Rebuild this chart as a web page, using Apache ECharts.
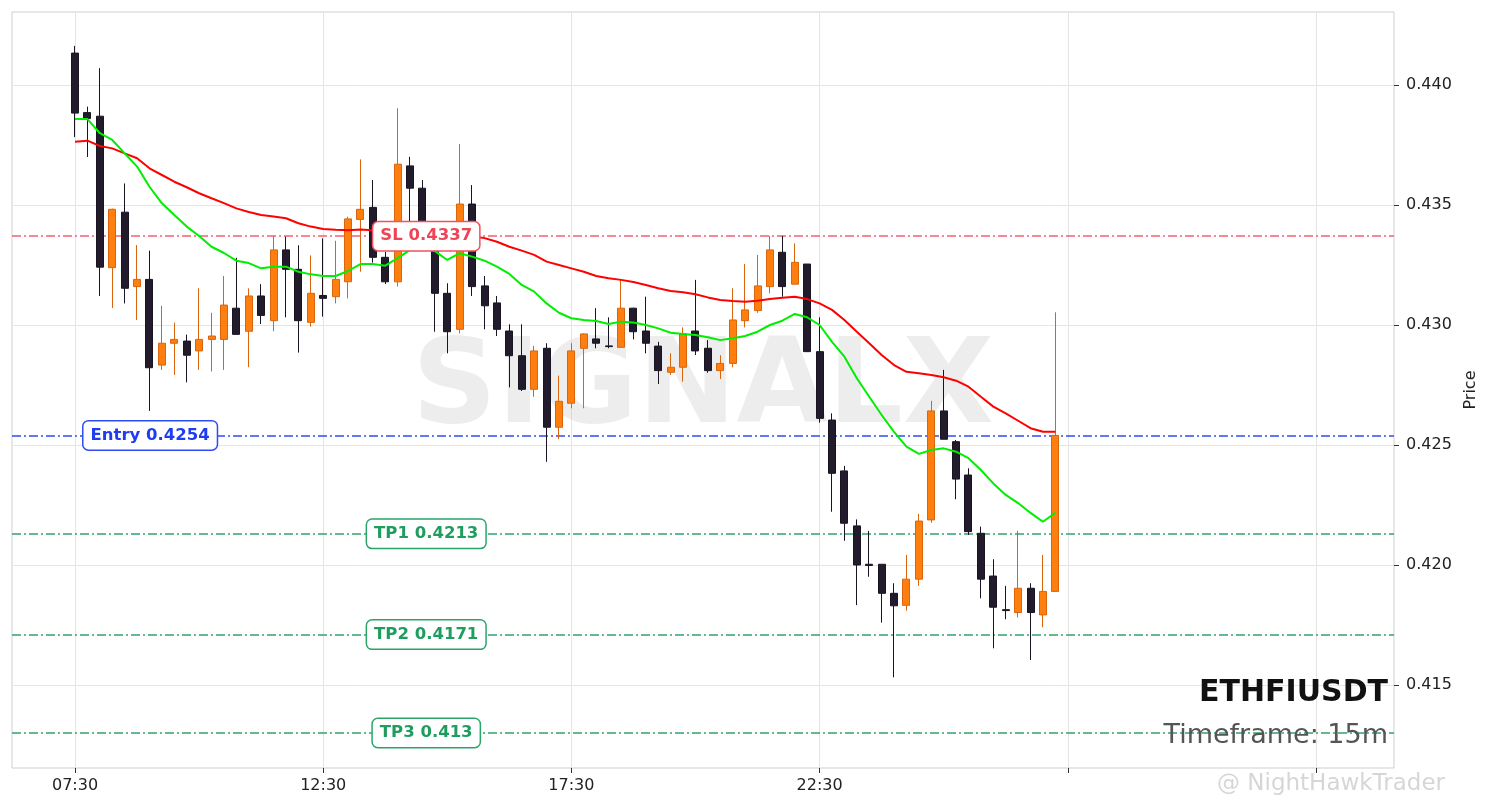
<!DOCTYPE html>
<html><head><meta charset="utf-8">
<script src="https://cdn.jsdelivr.net/npm/echarts@6/dist/echarts.min.js"></script>
<style>html,body{margin:0;padding:0;background:#fff}#c{width:1490px;height:808px}</style>
</head><body><div id="c"></div>
<script>
// ---- data (15m candles starting 07:30) ----
const OPEN  = [0.44133,0.43885,0.43870,0.43239,0.43470,0.43160,0.43190,0.42833,0.42924,0.42933,
               0.42892,0.42940,0.42940,0.43070,0.42974,0.43121,0.43018,0.43313,0.43232,0.43011,
               0.43123,0.43118,0.43180,0.43440,0.43490,0.43282,0.43180,0.43663,0.43570,0.43333,
               0.43132,0.42982,0.43504,0.43163,0.43092,0.42975,0.42872,0.42732,0.42903,0.42574,
               0.42674,0.42903,0.42942,0.42913,0.42907,0.43070,0.42975,0.42912,0.42803,0.42824,
               0.42975,0.42903,0.42810,0.42840,0.43018,0.43060,0.43160,0.43303,0.43170,0.43254,
               0.42889,0.42604,0.42392,0.42163,0.42003,0.42003,0.41882,0.41832,0.41941,0.42188,
               0.42642,0.42514,0.42375,0.42132,0.41954,0.41814,0.41802,0.41903,0.41792,0.41890];
const HIGH  = [0.44163,0.43910,0.44070,0.43485,0.43590,0.43333,0.43310,0.43080,0.43010,0.42960,
               0.43153,0.43051,0.43204,0.43280,0.43153,0.43170,0.43371,0.43368,0.43332,0.43290,
               0.43361,0.43351,0.43451,0.43690,0.43604,0.43305,0.43903,0.43701,0.43604,0.43363,
               0.43174,0.43754,0.43583,0.43204,0.43121,0.43003,0.43003,0.42913,0.42924,0.42789,
               0.42924,0.42965,0.43070,0.43032,0.43188,0.43072,0.43118,0.42930,0.42882,0.42990,
               0.43188,0.42937,0.42874,0.43153,0.43254,0.43292,0.43371,0.43371,0.43340,0.43254,
               0.43032,0.42632,0.42413,0.42190,0.42142,0.42003,0.41924,0.42042,0.42213,0.42684,
               0.42813,0.42521,0.42403,0.42160,0.42024,0.41913,0.42142,0.41924,0.42042,0.43053];
const LOW   = [0.43783,0.43700,0.43121,0.43071,0.43090,0.43021,0.42642,0.42813,0.42792,0.42761,
               0.42813,0.42806,0.42813,0.42960,0.42824,0.43004,0.42974,0.43032,0.42885,0.42993,
               0.43035,0.43090,0.43111,0.43222,0.43260,0.43171,0.43160,0.43417,0.43310,0.42972,
               0.42882,0.42965,0.43121,0.42982,0.42954,0.42740,0.42725,0.42701,0.42430,0.42524,
               0.42653,0.42653,0.42903,0.42903,0.42907,0.42940,0.42882,0.42754,0.42792,0.42764,
               0.42875,0.42801,0.42775,0.42824,0.42990,0.43051,0.43132,0.43118,0.43170,0.42889,
               0.42593,0.42222,0.42101,0.41833,0.41951,0.41760,0.41532,0.41810,0.41913,0.42176,
               0.42524,0.42274,0.42125,0.41861,0.41653,0.41774,0.41782,0.41604,0.41740,0.41890];
const CLOSE = [0.43883,0.43860,0.43241,0.43482,0.43153,0.43190,0.42822,0.42924,0.42940,0.42874,
               0.42940,0.42954,0.43083,0.42961,0.43121,0.43040,0.43313,0.43232,0.43018,0.43132,
               0.43111,0.43190,0.43442,0.43482,0.43282,0.43180,0.43670,0.43570,0.43333,0.43132,
               0.42972,0.43504,0.43160,0.43080,0.42982,0.42872,0.42732,0.42892,0.42574,0.42682,
               0.42892,0.42963,0.42924,0.42910,0.43070,0.42972,0.42924,0.42810,0.42824,0.42963,
               0.42892,0.42810,0.42840,0.43021,0.43063,0.43163,0.43313,0.43160,0.43261,0.42889,
               0.42611,0.42382,0.42174,0.42000,0.41998,0.41882,0.41830,0.41941,0.42183,0.42642,
               0.42524,0.42358,0.42139,0.41941,0.41824,0.41810,0.41903,0.41802,0.41890,0.42540];
const EMA_FAST = [0.43858,0.43858,0.43799,0.43771,0.43715,0.43660,0.43576,0.43507,0.43458,0.43410,
                  0.43371,0.43326,0.43300,0.43268,0.43258,0.43236,0.43243,0.43243,0.43222,0.43211,
                  0.43204,0.43204,0.43225,0.43254,0.43254,0.43247,0.43279,0.43313,0.43321,0.43308,
                  0.43271,0.43299,0.43285,0.43268,0.43243,0.43213,0.43167,0.43139,0.43090,0.43051,
                  0.43028,0.43021,0.43017,0.43004,0.43014,0.43010,0.43000,0.42986,0.42968,0.42963,
                  0.42958,0.42949,0.42937,0.42945,0.42954,0.42972,0.43000,0.43018,0.43046,0.43032,
                  0.43000,0.42930,0.42868,0.42778,0.42701,0.42625,0.42555,0.42493,0.42463,0.42479,
                  0.42486,0.42472,0.42445,0.42396,0.42340,0.42292,0.42258,0.42217,0.42180,0.42218];
const EMA_SLOW = [0.43764,0.43768,0.43746,0.43736,0.43715,0.43695,0.43653,0.43625,0.43597,0.43574,
                  0.43549,0.43528,0.43508,0.43486,0.43471,0.43458,0.43452,0.43445,0.43424,0.43410,
                  0.43400,0.43397,0.43395,0.43398,0.43395,0.43388,0.43396,0.43402,0.43400,0.43390,
                  0.43375,0.43380,0.43370,0.43362,0.43347,0.43326,0.43310,0.43292,0.43264,0.43250,
                  0.43236,0.43222,0.43204,0.43195,0.43188,0.43179,0.43167,0.43153,0.43142,0.43136,
                  0.43128,0.43115,0.43104,0.43100,0.43097,0.43101,0.43108,0.43114,0.43118,0.43108,
                  0.43090,0.43063,0.43021,0.42972,0.42924,0.42875,0.42833,0.42805,0.42799,0.42792,
                  0.42782,0.42768,0.42743,0.42701,0.42660,0.42632,0.42601,0.42570,0.42555,0.42555];
const TICK_POS    = [0, 20, 40, 60, 80, 100];
const TICK_LABELS = ['07:30', '12:30', '17:30', '22:30', '', ''];
const PRICE_TICKS = [0.415, 0.420, 0.425, 0.430, 0.435, 0.440];
const LEVEL_NAMES  = ['SL', 'Entry', 'TP1', 'TP2', 'TP3'];
const LEVEL_VALUES = [0.4337, 0.4254, 0.4213, 0.4171, 0.4130];
const SYMBOL = 'ETHFIUSDT';
const TIMEFRAME = '15m';
const WATERMARK = 'SIGNALX';
const CREDIT = '@ NightHawkTrader';

// ---- styles ----
const FONT = 'DejaVu Sans';
const LEVEL_STYLE = {
  SL:    {line: '#f0606f', text: '#ee4457', border: '#f0505f', x: 28.3},
  Entry: {line: '#2f4ef5', text: '#1f3cf0', border: '#2d4cf5', x: 6.05},
  TP1:   {line: '#32a36d', text: '#1f9d5e', border: '#2aa56a', x: 28.3},
  TP2:   {line: '#32a36d', text: '#1f9d5e', border: '#2aa56a', x: 28.3},
  TP3:   {line: '#32a36d', text: '#1f9d5e', border: '#2aa56a', x: 28.3}
};

const candles = OPEN.map((o, i) => [i, o, CLOSE[i], LOW[i], HIGH[i]]);
const fast = EMA_FAST.map((v, i) => [i, v]);
const slow = EMA_SLOW.map((v, i) => [i, v]);

const levelLines = LEVEL_NAMES.map((n, k) => ({
  yAxis: LEVEL_VALUES[k],
  lineStyle: {color: LEVEL_STYLE[n].line, width: 1.5, type: [9, 3, 2, 3]}
}));
const levelLabels = LEVEL_NAMES.map((n, k) => ({
  coord: [LEVEL_STYLE[n].x, LEVEL_VALUES[k]],
  symbol: 'rect', symbolSize: 0,
  label: {
    show: true, position: 'inside',
    formatter: n + ' ' + LEVEL_VALUES[k],
    color: LEVEL_STYLE[n].text, fontFamily: FONT, fontWeight: 'bold', fontSize: 16.5,
    backgroundColor: '#ffffff', borderColor: LEVEL_STYLE[n].border, borderWidth: 1.5,
    borderRadius: 5, padding: [5, 7, 4, 7], lineHeight: 19
  }
}));

const chart = echarts.init(document.getElementById('c'), null, {renderer: 'canvas'});
chart.setOption({
  animation: false,
  backgroundColor: '#ffffff',
  grid: {left: 12, top: 12, right: 96, bottom: 40, show: true, borderColor: '#cfcfcf', borderWidth: 1, backgroundColor: 'transparent'},
  xAxis: {
    type: 'value', min: -5.08, max: 106.29, splitNumber: 5,
    axisLine: {show: false, onZero: false},
    axisTick: {show: true, length: 5, lineStyle: {color: '#333'}, customValues: TICK_POS},
    axisLabel: {
      customValues: TICK_POS, margin: 10, color: '#222', fontFamily: FONT, fontSize: 16,
      formatter: v => { const k = TICK_POS.indexOf(Math.round(v)); return k >= 0 ? TICK_LABELS[k] : ''; }
    },
    splitLine: {show: true, lineStyle: {color: '#e5e5e5', width: 1}}
  },
  yAxis: {
    type: 'value', position: 'right', min: 0.4115417, max: 0.4430417, splitNumber: 6, scale: true,
    axisLine: {show: false, onZero: false},
    axisTick: {show: true, length: 5, lineStyle: {color: '#333'}, customValues: PRICE_TICKS},
    axisLabel: {customValues: PRICE_TICKS, margin: 12, color: '#222', fontFamily: FONT, fontSize: 16,
      formatter: v => v.toFixed(3)},
    splitLine: {show: true, lineStyle: {color: '#e5e5e5', width: 1}},
    name: 'Price', nameLocation: 'middle', nameRotate: 90, nameGap: 68,
    nameTextStyle: {color: '#222', fontFamily: FONT, fontSize: 16}
  },
  graphic: [
    {type: 'text', z: 1, silent: true, style: {x: 703, y: 391, text: WATERMARK, textAlign: 'center', textVerticalAlign: 'middle',
      fill: 'rgba(190,190,190,0.28)', font: 'bold 118px "DejaVu Sans"'}},
    {type: 'text', z: 10, style: {x: 1388, y: 693, text: SYMBOL, textAlign: 'right', textVerticalAlign: 'middle',
      fill: '#111', font: 'bold 30px "DejaVu Sans"'}},
    {type: 'text', z: 10, style: {x: 1388, y: 736, text: 'Timeframe: ' + TIMEFRAME, textAlign: 'right', textVerticalAlign: 'middle',
      fill: '#555', font: '27px "DejaVu Sans"'}},
    {type: 'text', z: 10, style: {x: 1217, y: 784, text: CREDIT, textAlign: 'left', textVerticalAlign: 'middle',
      fill: 'rgba(180,180,180,0.55)', font: '23px "DejaVu Sans"'}}
  ],
  series: [
    {
      type: 'candlestick', name: 'OHLC', z: 2, barWidth: 7.5,
      encode: {x: 0, y: [1, 2, 3, 4]},
      data: candles,
      itemStyle: {color: '#ff7f0e', color0: '#221b2c', borderColor: '#d9650c', borderColor0: '#1a1422', borderWidth: 1},
      markLine: {silent: true, symbol: 'none', precision: 6, z: 1, label: {show: false}, data: levelLines, animation: false}
    },
    {type: 'line', name: 'EMA slow', z: 3, data: slow, showSymbol: false, lineStyle: {color: '#ff0000', width: 2}},
    {type: 'line', name: 'EMA fast', z: 3, data: fast, showSymbol: false, lineStyle: {color: '#00ee00', width: 2},
      markPoint: {z: 6, silent: true, data: levelLabels, animation: false}}
  ]
});
</script></body></html>
